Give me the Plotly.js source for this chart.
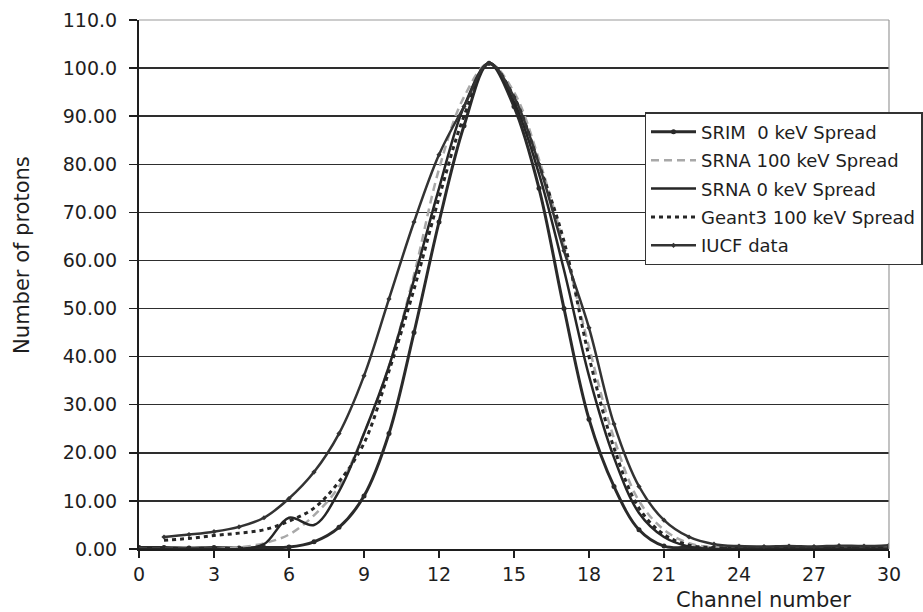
<!DOCTYPE html>
<html>
<head>
<meta charset="utf-8">
<script src="https://cdn.plot.ly/plotly-3.0.1.min.js"></script>
<style>html,body{margin:0;padding:0;background:#fff;}#chart{width:923px;height:612px;}</style>
</head>
<body>
<div id="chart"></div>
<script>
// Channel numbers
const channels = [0,1,2,3,4,5,6,7,8,9,10,11,12,13,14,15,16,17,18,19,20,21,22,23,24,25,26,27,28,29,30];

// Series values (number of protons per channel)
const srim0 = [0.3,0.3,0.2,0.3,0.2,0.3,0.4,1.5,4.5,11,24,45,68,88,101,92,75,50,27,13,4,0.6,0.3,0.2,0.2,0.2,0.2,0.2,0.2,0.2,0.2];
const srna100 = [0,0,0,0,0.3,1.2,3,7,13,24,38,57,79,94,101,95,81,63,42,23,10,4,1.2,0.3,0,0,0,0,0,0,0];
const srna0 = [0,0,0,0,0,1.0,6.5,5.0,12,24,38,56,75,92,101,93,78,58,36,19,7.5,2.5,0.5,0,0,0,0,0,0,0,0];
const geant100 = [null,1.8,2.2,2.8,3.3,4.0,5.8,8.5,14,22,37,54,73,90,101,94,80,64,40,21,8.5,3,0.8,0.3,0.2,0.2,0.2,0.2,0.2,0.2,0.2];
const iucf = [null,2.5,3.0,3.6,4.6,6.5,10.5,16,24,36,52,68,82,92,101,94,80,62,46,26,13,6,2.5,1.0,0.6,0.5,0.6,0.5,0.7,0.6,0.8];

const seriesNames = ["SRIM  0 keV Spread","SRNA 100 keV Spread","SRNA 0 keV Spread","Geant3 100 keV Spread","IUCF data"];

// Axis ticks
const xTicks = [0,3,6,9,12,15,18,21,24,27,30];
const yTickVals = [0,10,20,30,40,50,60,70,80,90,100,110];
const yTickText = ["0.00","10.00","20.00","30.00","40.00","50.00","60.00","70.00","80.00","90.00","100.0","110.0"];

const FONT = "DejaVu Sans, Arial, sans-serif";

const traces = [
  {x: channels, y: srim0, name: seriesNames[0], mode: "lines+markers", legendgroup: "a",
   line: {color: "#2a2a2a", width: 3, shape: "spline", smoothing: 1},
   marker: {symbol: "circle", size: 5, color: "#2a2a2a"}},
  {x: channels, y: srna100, name: seriesNames[1], mode: "lines", legendgroup: "b",
   line: {color: "#a8a8a8", width: 2.5, dash: "8px,5px", shape: "spline", smoothing: 1}},
  {x: channels, y: srna0, name: seriesNames[2], mode: "lines", legendgroup: "c",
   line: {color: "#262626", width: 2.5, shape: "spline", smoothing: 1}},
  {x: channels, y: geant100, name: seriesNames[3], mode: "lines", legendgroup: "d",
   line: {color: "#262626", width: 3, dash: "4px,4px", shape: "spline", smoothing: 1}},
  {x: channels, y: iucf, name: seriesNames[4], mode: "lines+markers", legendgroup: "e",
   line: {color: "#333333", width: 2.5, shape: "spline", smoothing: 1},
   marker: {symbol: "diamond", size: 4, color: "#333333"}}
];

const layout = {
  width: 923, height: 612,
  margin: {l: 139, r: 34, t: 20, b: 63, autoexpand: false},
  paper_bgcolor: "#ffffff", plot_bgcolor: "#ffffff",
  font: {family: FONT, color: "#1e1e1e"},
  showlegend: true,
  legend: {
    x: 0.674, y: 0.826, xanchor: "left", yanchor: "top",
    bgcolor: "#ffffff", bordercolor: "#333333", borderwidth: 1.5,
    font: {family: FONT, size: 18, color: "#1e1e1e"},
    traceorder: "grouped", tracegroupgap: 2, itemwidth: 45
  },
  xaxis: {
    range: [0, 30], tickvals: xTicks, ticktext: xTicks.map(String),
    showgrid: false, zeroline: false,
    showline: true, linecolor: "#1e1e1e", linewidth: 2,
    ticks: "outside", ticklen: 7, tickwidth: 1.5, tickcolor: "#1e1e1e",
    tickfont: {family: FONT, size: 19, color: "#1e1e1e"}
  },
  yaxis: {
    range: [0, 110], tickvals: yTickVals, ticktext: yTickText,
    showgrid: true, gridcolor: "#2e2e2e", gridwidth: 1.5, zeroline: false,
    showline: true, linecolor: "#1e1e1e", linewidth: 2,
    ticks: "outside", ticklen: 8, tickwidth: 1.5, tickcolor: "#1e1e1e",
    ticklabelstandoff: 8,
    tickfont: {family: FONT, size: 19, color: "#1e1e1e"}
  },
  shapes: [
    {type: "line", xref: "paper", yref: "paper", x0: 0, x1: 1, y0: 1, y1: 1, line: {color: "#9a9a9a", width: 1.2}},
    {type: "line", xref: "paper", yref: "paper", x0: 1, x1: 1, y0: 0, y1: 1, line: {color: "#9a9a9a", width: 1.2}}
  ],
  annotations: [
    {text: "Number of protons", xref: "paper", yref: "paper", x: -0.156, y: 0.556,
     textangle: -90, showarrow: false, xanchor: "center", yanchor: "middle",
     font: {family: FONT, size: 21, color: "#1e1e1e"}},
    {text: "Channel number", xref: "paper", yref: "paper", x: 0.833, y: -0.096,
     showarrow: false, xanchor: "center", yanchor: "middle",
     font: {family: FONT, size: 21, color: "#1e1e1e"}}
  ]
};

Plotly.newPlot("chart", traces, layout, {displayModeBar: false, staticPlot: true});
</script>
</body>
</html>
